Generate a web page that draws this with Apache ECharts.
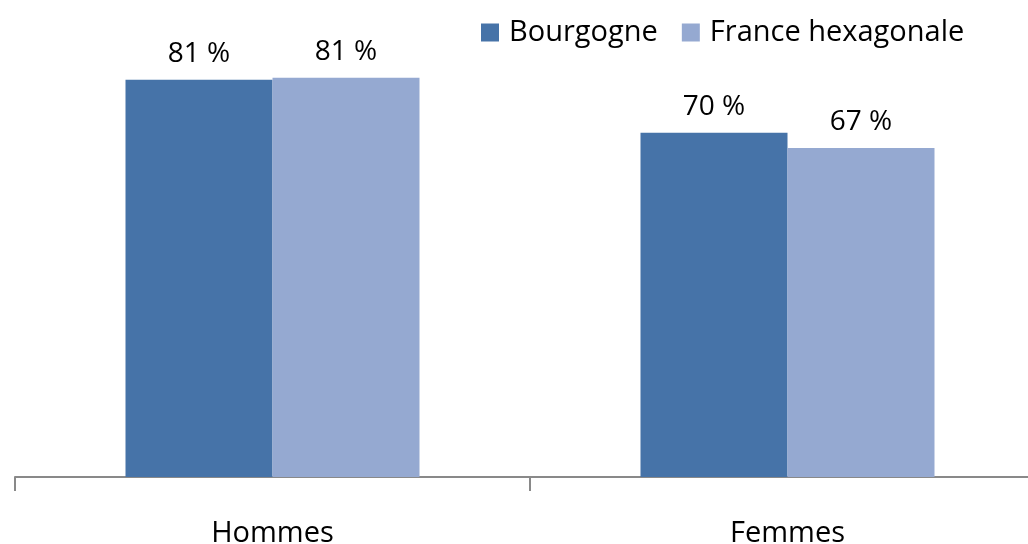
<!DOCTYPE html>
<html>
<head>
<meta charset="utf-8">
<script src="https://cdn.jsdelivr.net/npm/echarts@6/dist/echarts.min.js"></script>
<style>
  html, body { margin: 0; padding: 0; background: #fff; }
  #chart { width: 1028px; height: 544px; }
</style>
</head>
<body>
<div id="chart"></div>
<script>
const categories = ['Hommes', 'Femmes'];
const seriesNames = ['Bourgogne', 'France hexagonale'];
const bourgogne = [80.9, 70.1];
const franceHex = [81.3, 67.0];

const colors = ['#4673a8', '#95a9d1'];
const font = '"Open Sans", sans-serif';

const chart = echarts.init(document.getElementById('chart'));

function labelCfg() {
  return {
    show: true,
    position: 'top',
    distance: 12,
    color: '#000',
    fontFamily: font,
    fontSize: 28,
    formatter: p => Math.round(p.value) + ' %'
  };
}

chart.setOption({
  animation: false,
  legend: {
    data: seriesNames,
    left: 476,
    top: 13,
    itemWidth: 18,
    itemHeight: 18,
    itemGap: 24,
    icon: 'rect',
    textStyle: { fontFamily: font, fontSize: 29, color: '#000', padding: [0, 0, 0, 5] }
  },
  grid: { left: 15, width: 1030, top: 35, bottom: 67, outerBoundsMode: 'none', containLabel: false },
  xAxis: {
    type: 'category',
    data: categories,
    axisLine: { lineStyle: { color: '#898989', width: 2 } },
    axisTick: { show: true, length: 14, lineStyle: { color: '#898989', width: 2 } },
    axisLabel: { margin: 42, color: '#000', fontFamily: font, fontSize: 29 }
  },
  yAxis: {
    type: 'value',
    min: 0,
    max: 90,
    show: false
  },
  series: [
    {
      name: seriesNames[0],
      type: 'bar',
      data: bourgogne,
      barWidth: 147,
      barGap: '0%',
      itemStyle: { color: colors[0] },
      label: labelCfg()
    },
    {
      name: seriesNames[1],
      type: 'bar',
      data: franceHex,
      barWidth: 147,
      itemStyle: { color: colors[1] },
      label: labelCfg()
    }
  ]
});
</script>
</body>
</html>
